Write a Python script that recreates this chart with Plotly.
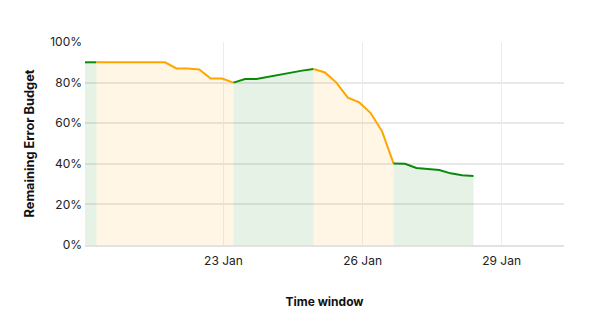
import pandas as pd
import plotly.graph_objects as go

# Remaining error budget (%) sampled at regular intervals
budget = [90, 90, 90, 90, 90, 90, 90, 90, 87, 87, 86.5, 82, 82, 80,
          81.8, 81.8, 82.9, 84.0, 84.9, 85.9, 86.7,
          85.0, 80.0, 72.6, 70.3, 65.0, 56.0, 40.2,
          40.0, 37.9, 37.3, 36.9, 35.3, 34.4, 34.0]
times = pd.date_range("2024-01-20 00:17", periods=len(budget), freq="355min")

# segments: (start index, end index, state)
segments = [(0, 1, "ok"), (1, 13, "burn"), (13, 20, "ok"), (20, 27, "burn"), (27, 34, "ok")]
line_colors = {"ok": "#0a8a0a", "burn": "#ffa500"}
fill_colors = {"ok": "rgba(0,128,0,0.10)", "burn": "rgba(255,165,0,0.10)"}

x_tick_vals = ["2024-01-23", "2024-01-26", "2024-01-29"]
x_tick_text = ["23 Jan", "26 Jan", "29 Jan"]
y_tick_vals = [0, 20, 40, 60, 80, 100]
y_tick_text = ["0%", "20%", "40%", "60%", "80%", "100%"]
x_range = ["2024-01-20 00:17", "2024-01-30 08:18"]

fig = go.Figure()
for s, e, state in segments:
    fig.add_trace(go.Scatter(
        x=times[s:e + 1], y=budget[s:e + 1], mode="lines",
        line=dict(color=line_colors[state], width=2),
        fill="tozeroy", fillcolor=fill_colors[state],
        showlegend=False, hoverinfo="skip"))

fig.update_layout(
    width=600, height=324,
    margin=dict(l=85, r=36, t=42, b=79),
    paper_bgcolor="white", plot_bgcolor="white",
    font=dict(family="Inter", size=12, color="#222"),
)
fig.update_xaxes(
    range=x_range, tickvals=x_tick_vals, ticktext=x_tick_text,
    showgrid=True, gridcolor="#ececec", gridwidth=1,
    showline=True, linecolor="#e2e2e2", linewidth=2,
    ticks="", ticklabelstandoff=4,
    title=dict(text="<b>Time window</b>", font=dict(size=12, color="#111"), standoff=30),
)
fig.update_yaxes(
    range=[0, 100], tickvals=y_tick_vals, ticktext=y_tick_text,
    showgrid=True, gridcolor="#e8e8e8", gridwidth=1.5,
    zeroline=False, showline=False, ticks="", ticklabelstandoff=2,
    title=dict(text="<b>Remaining Error Budget</b>", font=dict(size=12.8, color="#111"), standoff=12),
)
fig.write_html("out.html")
